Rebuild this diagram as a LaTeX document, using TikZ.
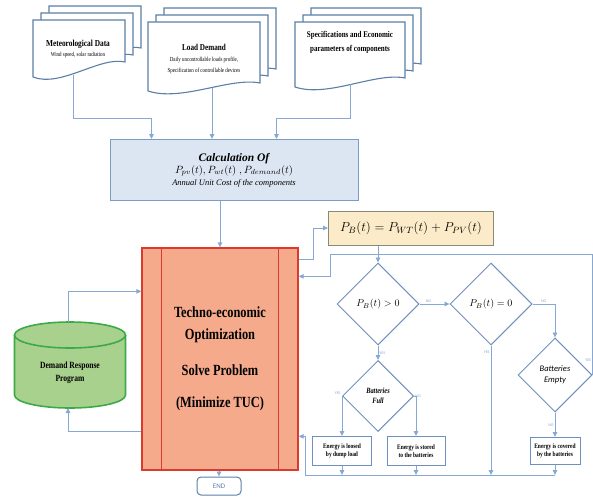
\documentclass[tikz,border=0pt]{standalone}
\usepackage{fix-cm}
\usepackage{fontspec}
\setmainfont{Liberation Serif}
\newfontfamily\condfont[FakeStretch=0.8]{Liberation Serif}
\newfontfamily\calfont{Carlito}
\usetikzlibrary{arrows.meta}
\usetikzlibrary{shapes.geometric}

\definecolor{docblue}{HTML}{5B7FA6}
\definecolor{lineblue}{HTML}{86A8D2}
\definecolor{calcfill}{HTML}{DCE6F2}
\definecolor{calcline}{HTML}{7B9CC4}
\definecolor{pbfill}{HTML}{FCEBC8}
\definecolor{pbline}{HTML}{8A8A78}
\definecolor{optfill}{HTML}{F5AA8C}
\definecolor{optred}{HTML}{DD3A2E}
\definecolor{drfill}{HTML}{A9D18E}
\definecolor{drline}{HTML}{3DAA4A}
\definecolor{diamline}{HTML}{6F90BC}

\begin{document}
\begin{tikzpicture}[x=1pt, y=-1pt, >={Triangle[length=5pt, width=4.5pt]},
    docpage/.style = {draw=docblue, line width=1.1pt, fill=white},
    doctext/.style = {font=\condfont\fontsize{6.2}{11}\selectfont, align=center},
    conn/.style = {draw=lineblue, line width=0.9pt, ->},
    line/.style = {draw=lineblue, line width=0.9pt},
    calcbox/.style = {draw=calcline, fill=calcfill, line width=1pt, minimum width=248, minimum height=61, align=center, inner sep=1pt},
    pbbox/.style = {draw=pbline, fill=pbfill, line width=1pt, minimum width=165, minimum height=34, font=\fontsize{13}{15}\selectfont},
    optbox/.style = {draw=optred, fill=optfill, line width=1.3pt, minimum width=156, minimum height=222, align=center, font=\condfont\bfseries\fontsize{15.5}{22}\selectfont},
    endbox/.style = {draw=docblue, line width=1pt, rounded corners=4pt, minimum width=44, minimum height=18, font=\calfont\fontsize{7}{8}\selectfont, text=docblue},
    drum/.style = {draw=drline, fill=drfill, line width=1.6pt},
    diam/.style = {diamond, aspect=1, draw=diamline, line width=1pt, inner sep=0pt},
    smallbox/.style = {draw=diamline, line width=1pt, align=center, inner sep=1pt, font=\condfont\bfseries\fontsize{6.8}{8.5}\selectfont},
    yn/.style = {font=\calfont\fontsize{4}{4}\selectfont, text=lineblue, inner sep=1pt}]
    \useasboundingbox (0,0) rectangle (593,500);

    % Input documents
    \foreach \xa/\xb/\ya/\yb/\yc in {33/125/20/77/62, 148/260/22/91/83, 295/405/22/87/78}
      \foreach \d in {2,1,0}
        \draw[docpage, shift={(8*\d,-7*\d)}] (\xa,\ya) -- (\xb,\ya) -- (\xb,\yc)
          .. controls ({\xb-0.27*(\xb-\xa)},\yc-6) and ({\xa+0.3*(\xb-\xa)},\yb+11) .. (\xa,\yb) -- cycle;

    \node[doctext] (met) at (78,49) {{\bfseries\fontsize{9.2}{11}\selectfont Meteorological Data}\\[-1pt] Wind speed, solar radiation};
    \node[doctext] (load) at (204,59) {{\bfseries\fontsize{9}{13}\selectfont Load Demand}\\ Daily uncontrollable loads profile,\\ Specification of controllable devices};
    \node[doctext, font=\condfont\bfseries\fontsize{8.8}{14}\selectfont] (spec) at (350,42) {Specifications and Economic\\ parameters of components};

    \coordinate (metout) at (73,75);
    \coordinate (loadout) at (212,88);
    \coordinate (specout) at (350,84.5);

    % Main nodes
    \node[calcbox] (calc) at (234,170) {{\bfseries\itshape\fontsize{11.5}{14}\selectfont Calculation Of}\\
      {\fontsize{10.5}{14}\selectfont $P_{pv}(t), P_{wt}(t)\;, P_{demand}(t)$}\\
      {\itshape\fontsize{8.5}{13}\selectfont Annual Unit Cost of the components}};
    \node[optbox] (opt) at (220,359) {Techno-economic\\ Optimization\\[14pt] Solve Problem\\[10pt] (Minimize TUC)};
    \draw[optred, line width=1.1pt] ([xshift=20pt]opt.north west) -- ([xshift=20pt]opt.south west);
    \draw[optred, line width=1.1pt] ([xshift=-20pt]opt.north east) -- ([xshift=-20pt]opt.south east);
    \node[endbox] (end) at (219,486) {END};
    \node[pbbox] (pb) at (411,228) {$P_B(t) = P_{WT}(t) + P_{PV}(t)$};

    % Demand response drum
    \draw[drum] (14.5,335) -- (14.5,395) arc[start angle=180, end angle=0, x radius=55.5, y radius=13] -- (125.5,335);
    \draw[drum] (70,335) ellipse [x radius=55.5, y radius=13];
    \node[font=\condfont\bfseries\fontsize{9.5}{13}\selectfont, align=center] (dr) at (70,373) {Demand Response\\ Program};
    \coordinate (drtop) at (68,322);
    \coordinate (drbot) at (68,408);

    % Decisions and actions
    \node[diam, minimum size=82, font=\fontsize{10}{12}\selectfont] (d1) at (378,304) {$P_B(t) > 0$};
    \node[diam, minimum size=82, font=\fontsize{10}{12}\selectfont] (d2) at (491,304) {$P_B(t) = 0$};
    \node[diam, minimum size=71, align=center, font=\condfont\bfseries\itshape\fontsize{8}{10}\selectfont] (bf) at (378,396) {Batteries\\ Full};
    \node[diam, minimum size=74, align=center, font=\calfont\itshape\fontsize{8.5}{11}\selectfont] (be) at (555,375) {Batteries\\ Empty};
    \node[smallbox, minimum width=59, minimum height=29] (b1) at (342,451) {Energy is loosed\\ by dump load};
    \node[smallbox, minimum width=58, minimum height=29] (b2) at (416,451) {Energy is stored\\ to the batteries};
    \node[smallbox, minimum width=50, minimum height=27] (b3) at (555,451) {Energy is covered\\ by the batteries};

    \coordinate (loopl) at (330,254);
    \coordinate (busl) at (305,475);

    % Edges
    \draw[conn] (metout) -- ++(0,43) -| ([xshift=42pt]calc.north west);
    \draw[conn] (loadout) -- (loadout |- calc.north);
    \draw[conn] (specout) -- ++(0,33.5) -| ([xshift=-82pt]calc.north east);
    \draw[conn] (calc.south -| opt.north) -- (opt.north);
    \draw[conn] (opt.south -| end.north) -- (end.north);
    \draw[conn] (drtop) |- ([yshift=-44pt]opt.north west);
    \draw[conn] ([yshift=-184pt]opt.north west) -| (drbot);
    \draw[conn] ([yshift=-12pt]opt.north east) -- ++(15,0) |- (pb.west);
    \draw[conn] (pb.south -| d1.north) -- (d1.north);

    \draw[conn] (d1.east) -- node[yn, pos=0.3, above] {NO} (d2.west);
    \draw[conn] (d2.east) -| node[yn, pos=0.25, above] {NO} (be.north);
    \draw[conn] (d1.south) -- node[yn, midway, right] {YES} (bf.north);
    \draw[conn] (bf.west) node[yn, above left] {YES} -| (b1.north);
    \draw[conn] (bf.east) node[yn, right] {NO} -| (b2.north);
    \draw[conn] (be.south) -- node[yn, midway, left] {NO} (b3.north);
    \draw[conn] (d2.south) -- node[yn, pos=0.05, left] {YES} (d2.south |- busl);
    \foreach \n in {b1,b2,b3}
      \draw[conn] (\n.south) -- (\n.south |- busl);
    \draw[conn] (b3.south |- busl) -- (busl) |- ([yshift=-189pt]opt.north east);
    \draw[line] (be.east) node[yn, above left, yshift=12pt] {YES} |- (loopl);
    \draw[conn] (loopl) |- ([yshift=-29pt]opt.north east);

\end{tikzpicture}
\end{document}
